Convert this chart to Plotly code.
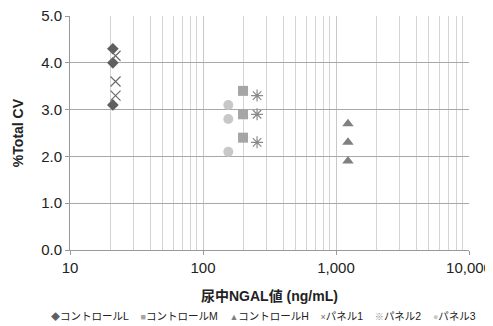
import plotly.graph_objects as go

series_names = ["コントロールL", "コントロールM", "コントロールH", "パネル1", "パネル2", "パネル3"]
series_x = [21, 200, 1230, 22, 255, 155]
series_y = [
    [4.3, 4.0, 3.1],
    [3.4, 2.9, 2.4],
    [2.7, 2.3, 1.9],
    [4.15, 3.6, 3.3],
    [3.3, 2.9, 2.3],
    [3.1, 2.8, 2.1],
]
x_tickvals = [10, 100, 1000, 10000]
x_ticktext = ["10", "100", "1,000", "10,000"]
y_tickvals = [0, 1, 2, 3, 4, 5]

symbols = ["diamond", "square", "triangle-up", "x-thin-open", "asterisk-open", "circle"]
legend_glyphs = ["◆", "■", "▲", "×", "※", "●"]
colors = ["#5f5f5f", "#a5a5a5", "#808080", "#6a6a6a", "#8a8a8a", "#c8c8c8"]
sizes = [9, 10, 10, 10, 10, 10]

FONT = "Liberation Sans, Arial, Noto Sans CJK JP"

fig = go.Figure()
for name, xv, ys, sym, col, sz in zip(series_names, series_x, series_y, symbols, colors, sizes):
    open_sym = sym.endswith("open")
    fig.add_trace(go.Scatter(
        x=[xv] * len(ys), y=ys, mode="markers", name=name, showlegend=False,
        marker=dict(symbol=sym, size=sz, color=col,
                    line=dict(width=1.2 if open_sym else 0, color=col)),
    ))

minor_vals = []
for d in [10, 100, 1000]:
    for m in range(2, 10):
        minor_vals.append(d * m)

gap = "&nbsp;" * 4
legend_html = gap.join(
    f"<span style='color:{c};font-size:9px'>{g}</span>{n}" for g, c, n in zip(legend_glyphs, colors, series_names)
)

fig.add_annotation(
    text=legend_html, xref="paper", yref="paper", x=0.484, y=-0.282, xanchor="center", yanchor="middle",
    showarrow=False, font=dict(size=10.5, family=FONT, color="#222"),
)
fig.add_annotation(
    text="<b>尿中NGAL値 (ng/mL)</b>", xref="paper", yref="paper", x=0.5, y=-0.197,
    xanchor="center", yanchor="middle", showarrow=False,
    font=dict(size=14, family=FONT, color="#222"),
)
fig.add_annotation(
    text="<b>%Total CV</b>", xref="paper", yref="paper", x=-0.13, y=0.5, textangle=-90,
    xanchor="center", yanchor="middle", showarrow=False,
    font=dict(size=14, family=FONT, color="#222"),
)

fig.update_layout(
    width=485, height=318,
    margin=dict(l=62, r=24, t=8, b=76, autoexpand=False),
    paper_bgcolor="white", plot_bgcolor="white",
    font=dict(family=FONT, size=15, color="#222222"),
    showlegend=False,
    xaxis=dict(
        type="log", range=[1, 4], automargin=False,
        tickvals=x_tickvals, ticktext=x_ticktext, ticklabeloverflow="allow",
        showgrid=True, gridcolor="#c8c8c8", gridwidth=1,
        minor=dict(tickvals=minor_vals, showgrid=True, gridcolor="#d4d4d4", gridwidth=1, ticks=""),
        ticks="outside", ticklen=4, tickcolor="#999",
        showline=True, linecolor="#999", linewidth=1,
        zeroline=False,
        tickfont=dict(size=15),
    ),
    yaxis=dict(
        range=[0, 5], tickvals=y_tickvals, tickformat=".1f", automargin=False,
        ticklabeloverflow="allow",
        showgrid=True, gridcolor="#a8a8a8", gridwidth=1,
        ticks="outside", ticklen=4, tickcolor="#999",
        showline=True, linecolor="#999", linewidth=1,
        zeroline=False,
        tickfont=dict(size=15),
    ),
)

fig.write_html("out.html")
